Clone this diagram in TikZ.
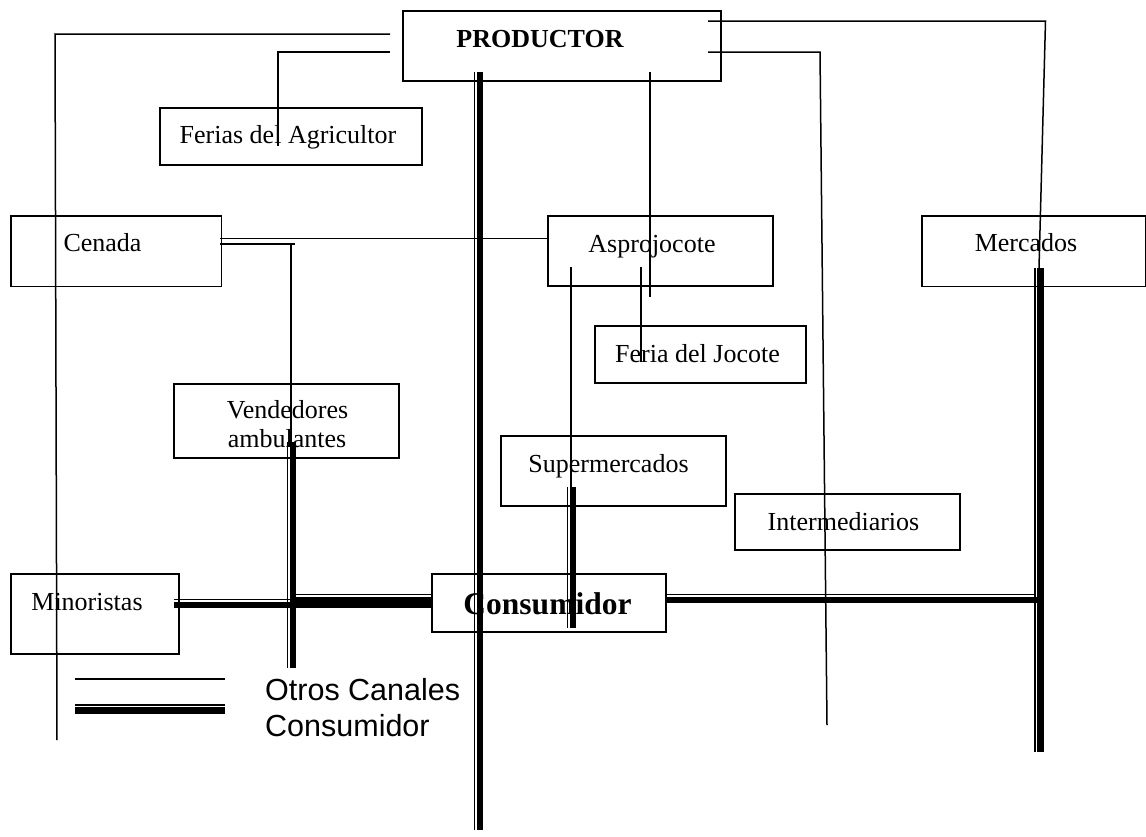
\documentclass[tikz,border=0pt]{standalone}
\usepackage{fontspec}
\setmainfont{Liberation Serif}
\newfontfamily\legendfont{Liberation Sans}
\begin{document}
\begin{tikzpicture}[x=1pt,y=-1pt,
  box/.style={draw, line width=1.5pt, rectangle, inner sep=0pt, anchor=north west},
  lbl/.style={anchor=base, inner sep=0pt, font=\fontsize{26}{30}\selectfont},
  boldlbl/.style={anchor=base, inner sep=0pt, font=\bfseries\fontsize{26}{30}\selectfont},
  leglbl/.style={anchor=base west, inner sep=0pt, font=\legendfont\fontsize{30.5}{35}\selectfont},
  other/.style={line width=1.5pt},
  cthin/.style={line width=1.4pt},
  cthick/.style={line width=6.2pt}]
\useasboundingbox (0,0) rectangle (1146,836);

% boxes
\node[box, minimum width=318pt, minimum height=70pt] (prod) at (402,10) {};
\node[box, minimum width=262pt, minimum height=57pt] (ferias) at (159,107) {};
\node[box, minimum width=210.5pt, minimum height=70.5pt] (cenada) at (10,215) {};
\node[box, minimum width=225pt, minimum height=70pt] (aspro) at (547,215) {};
\node[box, minimum width=224pt, minimum height=70.5pt] (merc) at (921,215) {};
\node[box, minimum width=211pt, minimum height=57pt] (feriaj) at (594,325) {};
\node[box, minimum width=225pt, minimum height=74pt] (vend) at (173,383) {};
\node[box, minimum width=225pt, minimum height=70pt] (super) at (500,435) {};
\node[box, minimum width=225pt, minimum height=56pt] (inter) at (734,493) {};
\node[box, minimum width=168pt, minimum height=80pt] (minor) at (10,573) {};
\node[box, minimum width=234pt, minimum height=58pt] (cons) at (431,573) {};

% texts
\node[boldlbl] (prodt) at (540,47) {PRODUCTOR};
\node[lbl] (feriast) at (288,143) {Ferias del Agricultor};
\node[lbl] (cenadat) at (102.5,251) {Cenada};
\node[lbl] (asprot) at (652,252) {Asprojocote};
\node[lbl] (merct) at (1026,251) {Mercados};
\node[lbl] (feriajt) at (697.5,362) {Feria del Jocote};
\node[lbl] (vendta) at (287.5,418) {Vendedores};
\node[lbl] (vendtb) at (287,447) {ambulantes};
\node[lbl] (supert) at (608.5,472) {Supermercados};
\node[lbl] (intert) at (843.5,530) {Intermediarios};
\node[lbl] (minort) at (87,610) {Minoristas};
\node[anchor=base, inner sep=0pt, font=\bfseries\fontsize{31.5}{36}\selectfont] (const) at (547.5,614) {Consumidor};

% connector end points
\coordinate (pl1) at (390,34);   \coordinate (pl1c) at (55,34);    \coordinate (pl1e) at (57,740);
\coordinate (pl2) at (390,52);   \coordinate (pl2c) at (278,52);   \coordinate (pl2e) at (278,146);
\coordinate (pr1) at (708,21);   \coordinate (pr1c) at (1045.5,21);\coordinate (pr1e) at (1039,268);
\coordinate (pr2) at (708,52);   \coordinate (pr2c) at (820,52);   \coordinate (pr2e) at (827,725);
\coordinate (pb) at (650,72);    \coordinate (pbe) at (650,297);
\coordinate (ca1) at (220,238.5);\coordinate (ca2) at (547,238.5);
\coordinate (cv1) at (220,244);  \coordinate (cv2) at (295,244);
\coordinate (cv3) at (291,244);  \coordinate (cv4) at (291,445);
\coordinate (as1) at (571,267);  \coordinate (as2) at (571,628);
\coordinate (aj1) at (641,267);  \coordinate (aj2) at (641,362);

% "otros canales" lines
\draw[other] (pl1) -- (pl1c) -- (pl1e);
\draw[other] (pl2) -- (pl2c) -- (pl2e);
\draw[other] (pr1) -- (pr1c) -- (pr1e);
\draw[other] (pr2) -- (pr2c) -- (pr2e);
\draw[other] (pb) -- (pbe);
\draw[other] (ca1) -- (ca2);
\draw[other] (cv1) -- (cv2);
\draw[other] (cv3) -- (cv4);
\draw[other] (as1) -- (as2);
\draw[other] (aj1) -- (aj2);

% "consumidor" lines: thin line beside a thick one
\coordinate (c1a) at (480,72);    \coordinate (c1b) at (480,830);
\coordinate (c2a) at (293,442);   \coordinate (c2b) at (293,668);
\coordinate (c3a) at (573,487);   \coordinate (c3b) at (573,628);
\coordinate (c4a) at (1040.5,268);\coordinate (c4b) at (1040.5,752);
\draw[cthin] ([xshift=-5.5pt]c1a) -- ([xshift=-5.5pt]c1b);
\draw[cthick] (c1a) -- (c1b);
\draw[cthin] ([xshift=-5.5pt]c2a) -- ([xshift=-5.5pt]c2b);
\draw[cthick] (c2a) -- (c2b);
\draw[cthin] ([xshift=-5.5pt]c3a) -- ([xshift=-5.5pt]c3b);
\draw[cthick] (c3a) -- (c3b);
\draw[cthin] ([xshift=-5.5pt]c4a) -- ([xshift=-5.5pt]c4b);
\draw[cthick] (c4a) -- (c4b);

\coordinate (h1a) at (665,600);   \coordinate (h1b) at (1040,600);  \coordinate (h1t) at (1034.5,594.5);
\coordinate (h2a) at (294,600);   \coordinate (h2b) at (431,600);
\coordinate (h3a) at (174,605);   \coordinate (h3b) at (431,605);
\draw[cthin] ([yshift=5.5pt]h1a) -- (h1t);
\draw[cthick] (h1a) -- (h1b);
\draw[cthin] ([yshift=5.5pt]h3a) -- ([yshift=5.5pt]h3b);
\draw[cthick] (h3a) -- (h3b);
\draw[cthin] ([yshift=5.5pt,xshift=2pt]h2a) -- ([yshift=5.5pt]h2b);
\draw[cthick] (h2a) -- (h2b);

% legend
\coordinate (l1a) at (75,679);   \coordinate (l1b) at (225,679);
\coordinate (l2a) at (75,710.5); \coordinate (l2b) at (225,710.5);
\draw[other] (l1a) -- (l1b);
\draw[cthin] ([yshift=5.5pt]l2a) -- ([yshift=5.5pt]l2b);
\draw[cthick] (l2a) -- (l2b);
\node[leglbl] (leg1) at (265,700) {Otros Canales};
\node[leglbl] (leg2) at (265,736) {Consumidor};
\end{tikzpicture}
\end{document}
